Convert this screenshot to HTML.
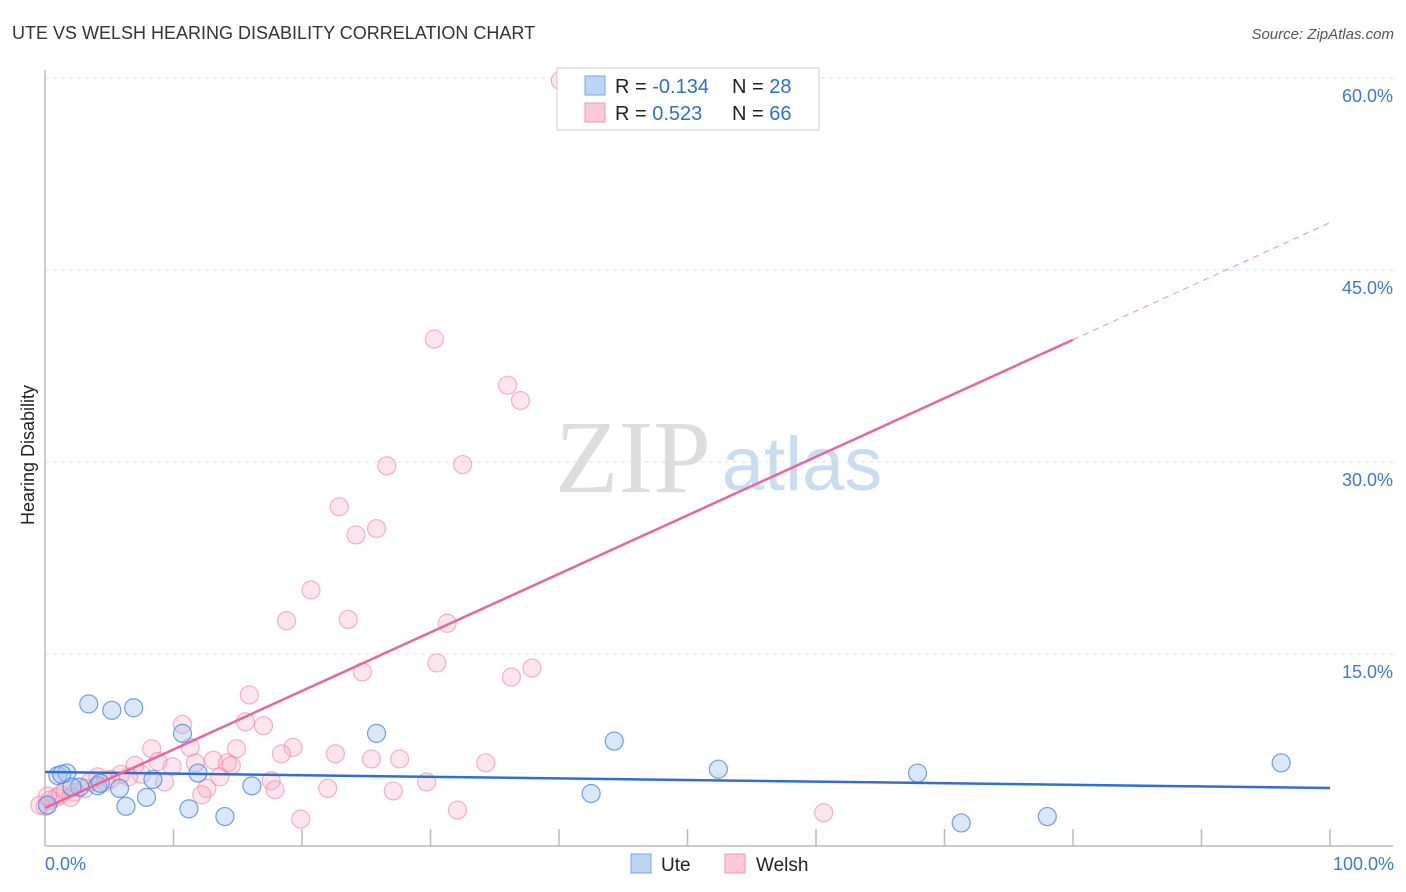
<!DOCTYPE html>
<html><head><meta charset="utf-8"><style>
body{margin:0;background:#fff;font-family:"Liberation Sans",sans-serif;}
#wrap{position:relative;width:1406px;height:892px;overflow:hidden}
</style></head><body>
<div id="wrap">
<svg id="svg" width="1406" height="892" xmlns="http://www.w3.org/2000/svg">
<text x="12" y="39" font-size="18" fill="#333">UTE VS WELSH HEARING DISABILITY CORRELATION CHART</text>
<text x="1394" y="39" font-size="15" fill="#555" font-style="italic" text-anchor="end">Source: ZipAtlas.com</text>
<text x="633" y="492" font-size="104" fill="#ddd" font-family="Liberation Serif,serif" text-anchor="middle">ZIP</text>
<text x="802" y="490" font-size="76" fill="#c9dcf0" text-anchor="middle">atlas</text>
<text transform="translate(34,455) rotate(-90)" font-size="18" fill="#222" text-anchor="middle">Hearing Disability</text>
<g id="grid"></g><g id="pts"></g><g id="lines"></g>
<g>
<rect x="557" y="68" width="262" height="62" fill="#fff" stroke="#ccc"/>
<rect x="585" y="76" width="20" height="19" fill="#bcd5f5" stroke="#7aa6e0"/>
<rect x="585" y="103" width="20" height="19" fill="#fcc9d6" stroke="#ef9ab3"/>
<text x="615" y="93" font-size="20" fill="#222">R = <tspan fill="#2f6fd0">-0.134</tspan></text>
<text x="732" y="93" font-size="20" fill="#222">N = <tspan fill="#2f6fd0">28</tspan></text>
<text x="615" y="120" font-size="20" fill="#222">R = <tspan fill="#2f6fd0"> 0.523</tspan></text>
<text x="732" y="120" font-size="20" fill="#222">N = <tspan fill="#2f6fd0">66</tspan></text>
</g>
<g>
<rect x="631" y="854" width="20" height="19" fill="#bcd5f5" stroke="#7aa6e0"/>
<text x="661" y="871" font-size="19" fill="#222">Ute</text>
<rect x="725" y="854" width="20" height="19" fill="#fcc9d6" stroke="#ef9ab3"/>
<text x="756" y="871" font-size="19" fill="#222">Welsh</text>
</g>
<text x="45" y="870" font-size="18" fill="#3b78d8">0.0%</text>
<text x="1394" y="870" font-size="18" fill="#3b78d8" text-anchor="end">100.0%</text>
</svg></div>
<script>
const yTicks=[15,30,45,60];
const uteX=[0.2,1,1.7,1.3,2.7,4.1,3.4,5.2,6.9,4.3,5.8,6.3,7.9,8.4,10.7,11.2,11.9,14,16.1,25.8,42.5,44.3,52.4,67.9,71.3,78,96.2,2.1];
const uteY=[3.2,5.5,5.7,5.6,4.6,4.7,11.1,10.6,10.8,4.9,4.5,3.1,3.8,5.2,8.8,2.9,5.7,2.3,4.7,8.8,4.1,8.2,6,5.7,1.8,2.3,6.5,4.6];
const welX=[40.1,30.3,36,37,26.6,32.5,22.9,25.8,24.2,20.7,18.8,23.6,31.3,30.5,24.7,37.9,36.3,15.9,10.7,15.6,17,8.3,11.3,14.9,19.3,22.6,18.4,27.6,34.3,25.4,7,8.8,9.9,11.7,13.1,14.2,14.5,13.6,7.5,6.5,5.9,4.1,5.1,9.3,17.6,17.9,22,27.1,29.7,12.6,12.2,32.1,19.9,60.6,0.9,0.4,0,1.6,2.3,3.1,1.2,2,3.5,4.7,-0.4,0.2];
const welY=[59.8,39.6,36,34.8,29.7,29.8,26.5,24.8,24.3,20,17.6,17.7,17.4,14.3,13.6,13.9,13.2,11.8,9.5,9.7,9.4,7.6,7.7,7.6,7.7,7.2,7.2,6.8,6.5,6.8,6.3,6.6,6.2,6.5,6.7,6.5,6.3,5.4,5.6,5.4,5.6,5.4,5.2,5,5.1,4.4,4.5,4.3,5,4.5,4,2.8,2.1,2.6,3.8,3.6,3.1,4.4,4.2,4.5,4,3.8,5,5,3.2,3.9];
const uteLine=[5.78,4.53];
const welLine=[2.97,48.7];
const NS='http://www.w3.org/2000/svg';
const X=v=>45+v*12.85, Y=v=>846-v*12.8;
function mk(t,a,p){const e=document.createElementNS(NS,t);for(const k in a)e.setAttribute(k,a[k]);p.appendChild(e);return e;}
const grid=document.getElementById('grid');
mk('line',{x1:45,y1:70,x2:45,y2:846,stroke:'#bbb','stroke-width':1.5},grid);
mk('line',{x1:45,y1:846,x2:1393,y2:846,stroke:'#bbb','stroke-width':1.5},grid);
for(let i=1;i<=10;i++){const t=mk('line',{x1:X(i*10),x2:X(i*10),y1:829,y2:846,stroke:'#bbb','stroke-width':1.5},grid);

}
yTicks.forEach(v=>{const g=mk('line',{x1:45,x2:1393,y1:Y(v),y2:Y(v),stroke:'#ddd','stroke-dasharray':'4,4'},grid);


const t=mk('text',{x:1393,y:Y(v)+24,'font-size':18,fill:'#3b78d8','text-anchor':'end'},grid);t.textContent=v.toFixed(1)+'%';

});
const pts=document.getElementById('pts');
welX.forEach((x,i)=>{const c=mk('circle',{cx:X(x),cy:Y(welY[i]),r:9,fill:'rgba(248,170,195,0.3)',stroke:'rgba(235,130,165,0.6)','stroke-width':1.2},pts);

});
uteX.forEach((x,i)=>{const c=mk('circle',{cx:X(x),cy:Y(uteY[i]),r:9,fill:'rgba(160,195,240,0.4)',stroke:'rgba(70,130,215,0.75)','stroke-width':1.2},pts);

});
const L=document.getElementById('lines');
const bl=mk('line',{x1:X(0),y1:Y(uteLine[0]),x2:X(100),y2:Y(uteLine[1]),stroke:'#2f6fd0','stroke-width':2.5},L);


const w80=welLine[0]+(welLine[1]-welLine[0])*0.8;
const pl=mk('line',{x1:X(0),y1:Y(welLine[0]),x2:X(80),y2:Y(w80),stroke:'#e8669a','stroke-width':2.5},L);


const pd=mk('line',{x1:X(80),y1:Y(w80),x2:X(100),y2:Y(welLine[1]),stroke:'#f0a0bd','stroke-width':1.2,'stroke-dasharray':'6,5'},L);


</script>
</body></html>
